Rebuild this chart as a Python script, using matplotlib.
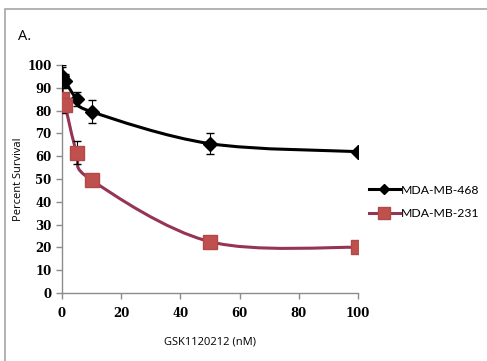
import numpy as np
import matplotlib.pyplot as plt
from matplotlib.path import Path
from matplotlib.patches import PathPatch, Rectangle

dose = [0.1, 1, 5, 10, 50, 100]
mb468 = [95, 93, 85, 79.5, 65.5, 62]
mb468_err = [5, 3, 3, 5, 4.5, 0.5]
mb231 = [85, 82.5, 61.5, 49.5, 22.5, 20]
mb231_err_lo = [6, 3, 5, 0.5, 0.5, 0.5]
mb231_err_hi = [14, 3, 5, 0.5, 0.5, 0.5]
xticks = [0, 20, 40, 60, 80, 100]
yticks = [0, 10, 20, 30, 40, 50, 60, 70, 80, 90, 100]


def smooth_path(x, y):
    # excel-style smoothed line: cubic bezier with catmull-rom control points
    pts = np.column_stack([x, y]).astype(float)
    n = len(pts)
    verts = [pts[0]]
    codes = [Path.MOVETO]
    for i in range(n - 1):
        p0 = pts[max(i - 1, 0)]
        p1 = pts[i]
        p2 = pts[i + 1]
        p3 = pts[min(i + 2, n - 1)]
        c1 = p1 + (p2 - p0) / 6
        c2 = p2 - (p3 - p1) / 6
        verts += [c1, c2, p2]
        codes += [Path.CURVE4] * 3
    return Path(verts, codes)


fig = plt.figure(figsize=(4.87, 3.61), dpi=100)
fig.patches.append(Rectangle((5 / 487, -0.1), 1.1, 1 - 9 / 361 + 0.1,
                             transform=fig.transFigure, fill=False,
                             edgecolor='#a6a6a6', linewidth=1.2))
ax = fig.add_axes([62 / 487, 1 - 293 / 361, 296 / 487, 228 / 361])

black = '#000000'
red_line = '#953553'
red_mark = '#c0504d'

ax.add_patch(PathPatch(smooth_path(dose, mb468), fill=False, edgecolor=black,
                       linewidth=2.2, zorder=2))
ax.add_patch(PathPatch(smooth_path(dose, mb231), fill=False, edgecolor=red_line,
                       linewidth=2.2, zorder=2))

ax.errorbar(dose, mb468, yerr=mb468_err, fmt='none', ecolor=black,
            elinewidth=0.8, capsize=3, zorder=3)
ax.errorbar(dose, mb231, yerr=[mb231_err_lo, mb231_err_hi], fmt='none',
            ecolor=black, elinewidth=0.8, capsize=3, zorder=3)
# upper part of the first 231 bar shows in the series colour
ax.vlines(dose[0], mb231[0], mb231[0] + mb231_err_hi[0], color=red_line,
          linewidth=2.2, zorder=2)
ax.plot(dose, mb468, linestyle='none', marker='D', markersize=7,
        color=black, zorder=4)
ax.plot(dose, mb231, linestyle='none', marker='s', markersize=10,
        markerfacecolor=red_mark, markeredgecolor='#b04a49', zorder=4)

# legend proxies
ax.plot([], [], color=black, linewidth=2.2, marker='D', markersize=5,
        label='MDA-MB-468')
ax.plot([], [], color=red_line, linewidth=2.2, marker='s', markersize=8,
        markerfacecolor=red_mark, markeredgecolor='#b04a49', label='MDA-MB-231')
ax.legend(loc='center left', bbox_to_anchor=(1.0, 0.40), frameon=False,
          handlelength=2.5, handletextpad=0.1, labelspacing=1.0,
          prop={'family': 'Lato', 'size': 8.8})

ax.set_xlim(0, 100)
ax.set_ylim(0, 100)
ax.set_xticks(xticks)
ax.set_yticks(yticks)
for s in ['top', 'right']:
    ax.spines[s].set_visible(False)
for s in ['left', 'bottom']:
    ax.spines[s].set_color('#8c8c8c')
    ax.spines[s].set_linewidth(1.0)
ax.tick_params(colors='#8c8c8c', length=4, width=1.0, labelcolor='black')
for lab in ax.get_xticklabels() + ax.get_yticklabels():
    lab.set_family('DejaVu Serif')
    lab.set_fontweight('bold')
    lab.set_fontsize(8.5)
ax.tick_params(axis='x', pad=6)

ax.set_xlabel('GSK1120212 (nM)', family='Open Sans', fontsize=8, labelpad=12)
ax.set_ylabel('Percent Survival', family='Open Sans', fontsize=8, labelpad=2)
fig.text(18 / 487, 1 - 37 / 361, 'A.', family='Open Sans', fontsize=10.5,
         va='center')

fig.savefig('out.png', dpi=100)
